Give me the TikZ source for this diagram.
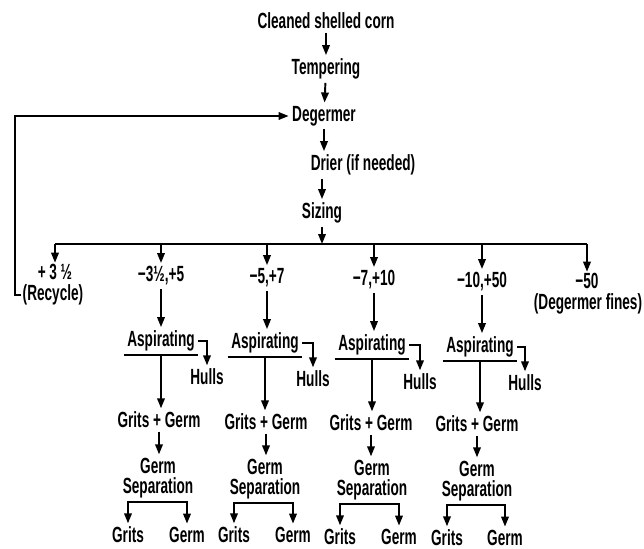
\documentclass[tikz,border=0pt]{standalone}
\usepackage{fontspec}
\setmainfont{Liberation Sans}[FakeStretch=0.62]
\usetikzlibrary{arrows.meta}

\begin{document}
\begin{tikzpicture}[
  x=0.2mm, y=-0.2mm,
  every node/.style={font=\fontsize{12.5}{11.5}\selectfont\bfseries,
    inner sep=1.5pt, align=center},
  tight/.style={inner sep=0.3pt},
  line width=1.1pt,
  >={Triangle[length=2mm,width=1.5mm]},
  ]
  \useasboundingbox (0,0) rectangle (644,549);

  % Hauptstrang
  \node (corn)   at (326,21)  {Cleaned shelled corn};
  \node (temper) at (326,69)  {Tempering};
  \node (degerm) at (324,116) {Degermer};
  \node (drier)  at (363,165) {Drier (if needed)};
  \node (sizing) at (322,213) {Sizing};
  \coordinate (bus)  at (322,244);
  \coordinate (loop) at (15,116);

  \draw[->] (corn) -- (temper);
  \draw[->] (temper) -- (degerm);
  \draw[->] (degerm.south) -- (degerm.south |- drier.north);
  \draw[->] (sizing.north |- drier.south) -- (sizing.north);
  \draw[->] (sizing) -- (bus);

  % Fraktionen
  \node[tight] (lab1)   at (55,272)  {+\,3\,½};
  \node[tight] (rec1)   at (53,295)  {(Recycle)};
  \node (lab2)   at (161,276) {−3½,+5};
  \node (lab3)   at (267,278) {−5,+7};
  \node (lab4)   at (374,280) {−7,+10};
  \node (lab5)   at (482,282) {−10,+50};
  \node[tight] (lab6)   at (587,281) {−50};
  \node[tight] (fines6) at (588,304) {(Degermer fines)};

  \draw (lab1 |- bus) -- (lab6 |- bus);
  \draw[->] (lab1 |- bus) -- (lab1.north);
  \draw[->] (lab2 |- bus) -- (lab2.north);
  \draw[->] (lab3 |- bus) -- (lab3.north);
  \draw[->] (lab4 |- bus) -- (lab4.north);
  \draw[->] (lab5 |- bus) -- (lab5.north);
  \draw[->] (lab6 |- bus) -- (lab6.north);

  % Rueckfuehrung
  \draw[->] (rec1.west) -| (loop) -- (degerm.west);

  % Spalte -3 1/2,+5
  \node (asp2)   at (161,341) {Aspirating};
  \node (hulls2) at (207,377) {Hulls};
  \node (gg2)    at (159,420) {Grits + Germ};
  \node (sep2)   at (158,478) {Germ\\Separation};
  \node (grits2) at (128,535) {Grits};
  \node (germ2)  at (187,535) {Germ};
  % Spalte -5,+7
  \node (asp3)   at (265,343) {Aspirating};
  \node (hulls3) at (313,379) {Hulls};
  \node (gg3)    at (266,422) {Grits + Germ};
  \node (sep3)   at (265,479) {Germ\\Separation};
  \node (grits3) at (234,535) {Grits};
  \node (germ3)  at (293,535) {Germ};
  % Spalte -7,+10
  \node (asp4)   at (372,345) {Aspirating};
  \node (hulls4) at (420,382) {Hulls};
  \node (gg4)    at (371,423) {Grits + Germ};
  \node (sep4)   at (372,480) {Germ\\Separation};
  \node (grits4) at (340,537) {Grits};
  \node (germ4)  at (399,537) {Germ};
  % Spalte -10,+50
  \node (asp5)   at (480,347) {Aspirating};
  \node (hulls5) at (525,383) {Hulls};
  \node (gg5)    at (477,424) {Grits + Germ};
  \node (sep5)   at (477,481) {Germ\\Separation};
  \node (grits5) at (447,538) {Grits};
  \node (germ5)  at (505,538) {Germ};

  \draw[->] (lab2.south) -- (lab2.south |- asp2.north);
  \draw (asp2.south west) -- (asp2.south east);
  \draw[->] (asp2.east) -| (hulls2.north);
  \draw[->] (asp2.south) -- (asp2.south |- gg2.north);
  \draw[->] (gg2.south) -- (gg2.south |- sep2.north);
  \draw[<->] (grits2.north) |- (sep2.south) -| (germ2.north);

  \draw[->] (lab3.south) -- (lab3.south |- asp3.north);
  \draw (asp3.south west) -- (asp3.south east);
  \draw[->] (asp3.east) -| (hulls3.north);
  \draw[->] (asp3.south) -- (asp3.south |- gg3.north);
  \draw[->] (gg3.south) -- (gg3.south |- sep3.north);
  \draw[<->] (grits3.north) |- (sep3.south) -| (germ3.north);

  \draw[->] (lab4.south) -- (lab4.south |- asp4.north);
  \draw (asp4.south west) -- (asp4.south east);
  \draw[->] (asp4.east) -| (hulls4.north);
  \draw[->] (asp4.south) -- (asp4.south |- gg4.north);
  \draw[->] (gg4.south) -- (gg4.south |- sep4.north);
  \draw[<->] (grits4.north) |- (sep4.south) -| (germ4.north);

  \draw[->] (lab5.south) -- (lab5.south |- asp5.north);
  \draw (asp5.south west) -- (asp5.south east);
  \draw[->] (asp5.east) -| (hulls5.north);
  \draw[->] (asp5.south) -- (asp5.south |- gg5.north);
  \draw[->] (gg5.south) -- (gg5.south |- sep5.north);
  \draw[<->] (grits5.north) |- (sep5.south) -| (germ5.north);
\end{tikzpicture}
\end{document}
